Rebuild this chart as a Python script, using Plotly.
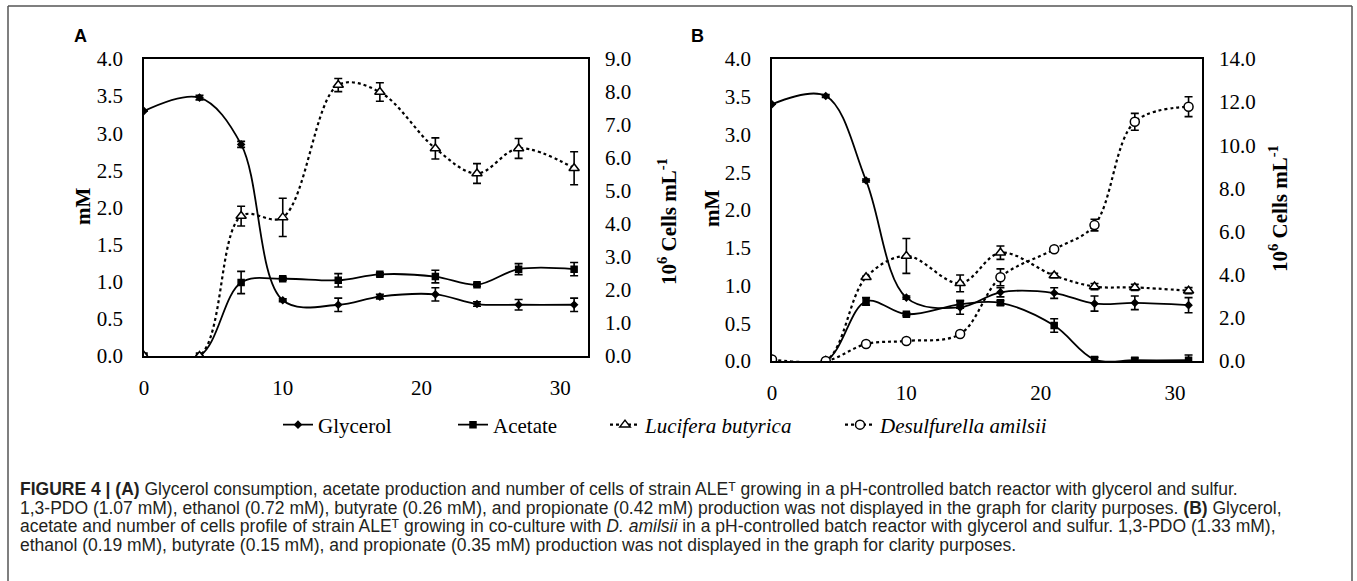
import plotly.graph_objects as go

W, H = 1357, 581

# ---------------- data ----------------
days = [0, 4, 7, 10, 14, 17, 21, 24, 27, 31]

# Panel A (pure culture)
a_glycerol = [3.30, 3.48, 2.85, 0.75, 0.69, 0.80, 0.83, 0.70, 0.69, 0.69]
a_glycerol_err = [0.0, 0.03, 0.04, 0.02, 0.09, 0.03, 0.09, 0.03, 0.07, 0.09]
a_acetate = [0.0, 0.0, 0.99, 1.04, 1.02, 1.10, 1.07, 0.96, 1.17, 1.17]
a_acetate_err = [0.0, 0.0, 0.15, 0.02, 0.09, 0.02, 0.085, 0.02, 0.074, 0.09]
a_lucifera = [0.0, 0.0, 4.24, 4.20, 8.21, 8.00, 6.29, 5.53, 6.29, 5.69]
a_lucifera_err = [0.0, 0.0, 0.30, 0.58, 0.20, 0.28, 0.32, 0.30, 0.30, 0.50]

# Panel B (co-culture)
b_glycerol = [3.40, 3.51, 2.39, 0.84, 0.71, 0.91, 0.90, 0.76, 0.77, 0.74]
b_glycerol_err = [0.0, 0.02, 0.02, 0.02, 0.09, 0.06, 0.07, 0.10, 0.09, 0.10]
b_acetate = [0.0, 0.0, 0.79, 0.62, 0.75, 0.77, 0.47, 0.02, 0.01, 0.01]
b_acetate_err = [0.0, 0.0, 0.05, 0.02, 0.05, 0.03, 0.09, 0.03, 0.03, 0.07]
b_lucifera = [0.05, 0.0, 3.88, 4.87, 3.60, 5.02, 3.96, 3.45, 3.41, 3.26]
b_lucifera_err = [0.0, 0.0, 0.05, 0.81, 0.39, 0.31, 0.10, 0.14, 0.14, 0.14]
b_desulfurella = [0.07, 0.0, 0.79, 0.93, 1.25, 3.88, 5.18, 6.30, 11.09, 11.79]
b_desulfurella_err = [0.0, 0.0, 0.05, 0.05, 0.05, 0.39, 0.05, 0.27, 0.39, 0.46]

left_ticks = [0.0, 0.5, 1.0, 1.5, 2.0, 2.5, 3.0, 3.5, 4.0]
a_right_ticks = [0, 1, 2, 3, 4, 5, 6, 7, 8, 9]
b_right_ticks = [0, 2, 4, 6, 8, 10, 12, 14]
x_ticks = [0, 10, 20, 30]

caption_lines = [
    "<b>FIGURE 4 | (A)</b> Glycerol consumption, acetate production and number of cells of strain ALE\u1d40 growing in a pH-controlled batch reactor with glycerol and sulfur.",
    "1,3-PDO (1.07 mM), ethanol (0.72 mM), butyrate (0.26 mM), and propionate (0.42 mM) production was not displayed in the graph for clarity purposes. <b>(B)</b> Glycerol,",
    "acetate and number of cells profile of strain ALE\u1d40 growing in co-culture with <i>D. amilsii</i> in a pH-controlled batch reactor with glycerol and sulfur. 1,3-PDO (1.33 mM),",
    "ethanol (0.19 mM), butyrate (0.15 mM), and propionate (0.35 mM) production was not displayed in the graph for clarity purposes.",
]

# ---------------- helpers ----------------
def px(x):
    return x / W

def py(y):
    return 1 - y / H

SERIF = "Liberation Serif, Times New Roman, serif"
SANS = "Liberation Sans, Arial, DejaVu Sans, sans-serif"

fig = go.Figure()

def add(x, y, err, name, xa, ya, dash, symbol, size, fill, legend=None):
    fig.add_trace(go.Scatter(
        x=x, y=y, name=name, xaxis=xa, yaxis=ya,
        mode="lines+markers", line=dict(shape="spline", smoothing=1.0, color="black",
                                        width=1.8 if dash == "solid" else 2.2, dash=dash),
        marker=dict(symbol=symbol, size=size, color=fill,
                    line=dict(color="black", width=1.5)),
        error_y=dict(type="data", array=err, visible=True, color="black", thickness=1.6, width=4),
        showlegend=legend is not None, legend=legend if legend else "legend",
    ))

# Panel A
add(days, a_glycerol, a_glycerol_err, "Glycerol", "x", "y", "solid", "diamond", 5, "black", "legend")
add(days, a_acetate, a_acetate_err, "Acetate", "x", "y", "solid", "square", 6, "black", "legend2")
add(days, a_lucifera, a_lucifera_err, "<i>Lucifera butyrica</i>", "x", "y2", "dot", "triangle-up", 9, "white", "legend3")
# Panel B
add(days, b_glycerol, b_glycerol_err, "Glycerol", "x2", "y3", "solid", "diamond", 5, "black")
add(days, b_acetate, b_acetate_err, "Acetate", "x2", "y3", "solid", "square", 6, "black")
add(days, b_lucifera, b_lucifera_err, "<i>Lucifera butyrica</i>", "x2", "y4", "dot", "triangle-up", 9, "white")
add(days, b_desulfurella, b_desulfurella_err, "<i>Desulfurella amilsii</i>", "x2", "y4", "dot", "circle", 9, "white", "legend4")

tickfont = dict(family=SERIF, size=21, color="black")

A_X = [px(144), px(588)]
B_X = [px(772), px(1202)]
A_Y = [py(356), py(59)]
B_Y = [py(361), py(59)]

def xaxis(domain, anchor):
    return dict(domain=domain, anchor=anchor, range=[0, 32], tickvals=x_ticks,
                ticktext=[str(t) for t in x_ticks], showline=True, mirror=True,
                linecolor="black", linewidth=1.5, showgrid=False, zeroline=False,
                ticks="", tickfont=tickfont, ticklabelstandoff=12, automargin=False)

def yleft(domain, anchor):
    return dict(domain=domain, anchor=anchor, range=[0, 4.0], tickvals=left_ticks,
                ticktext=[f"{t:.1f}" for t in left_ticks], showline=True, mirror=True,
                linecolor="black", linewidth=1.5, showgrid=False, zeroline=False,
                ticks="", tickfont=tickfont, ticklabelstandoff=15, automargin=False)

def yright(domain, anchor, overlay, rng, vals):
    return dict(domain=domain, anchor=anchor, overlaying=overlay, side="right",
                range=rng, tickvals=vals, ticktext=[f"{v:.1f}" for v in vals],
                showline=False, showgrid=False, zeroline=False, ticks="",
                tickfont=tickfont, ticklabelstandoff=16, automargin=False)

legend_common = dict(orientation="h", yanchor="middle", y=py(425), xanchor="left",
                     font=dict(family=SERIF, size=21, color="black"),
                     bgcolor="rgba(0,0,0,0)", borderwidth=0, itemwidth=30)

fig.update_layout(
    width=W, height=H, margin=dict(l=0, r=0, t=0, b=0, pad=0, autoexpand=False),
    paper_bgcolor="white", plot_bgcolor="white",
    xaxis=xaxis(A_X, "y"),
    yaxis=yleft(A_Y, "x"),
    yaxis2=yright(A_Y, "x", "y", [0, 9.0], a_right_ticks),
    xaxis2=xaxis(B_X, "y3"),
    yaxis3=yleft(B_Y, "x2"),
    yaxis4=yright(B_Y, "x2", "y3", [0, 14.0], b_right_ticks),
    legend=dict(legend_common, x=px(278)),
    legend2=dict(legend_common, x=px(453)),
    legend3=dict(legend_common, x=px(605)),
    legend4=dict(legend_common, x=px(840)),
)

annos = []
def note(text, x, y, font, angle=0, xanchor="center"):
    annos.append(dict(text=text, x=px(x), y=py(y), xref="paper", yref="paper",
                      xanchor=xanchor, yanchor="middle", textangle=angle,
                      showarrow=False, font=font, align="left"))

# panel letters
note("<b>A</b>", 80, 36, dict(family=SANS, size=18, color="black"))
note("<b>B</b>", 697, 36, dict(family=SANS, size=18, color="black"))
# axis titles
title_font = dict(family=SERIF, size=21, color="black")
note("<b>mM</b>", 83, 207, title_font, -90)
note("<b>mM</b>", 712, 209, title_font, -90)
note("<b>10<sup>6</sup> Cells mL<sup>-1</sup></b>", 668, 222, title_font, -90)
note("<b>10<sup>6</sup> Cells mL<sup>-1</sup></b>", 1279, 209, title_font, -90)
# caption
for i, line in enumerate(caption_lines):
    note(line, 18, 489 + i * 18.5, dict(family=SANS, size=17.5, color="#231f20"), 0, "left")
fig.update_layout(annotations=annos)

# outer frame (top, left, right)
frame = dict(color="#555555", width=1.5)
fig.add_shape(type="line", xref="paper", yref="paper", x0=px(8), x1=px(1352), y0=py(6), y1=py(6), line=frame)
fig.add_shape(type="line", xref="paper", yref="paper", x0=px(8), x1=px(8), y0=py(6), y1=0, line=frame)
fig.add_shape(type="line", xref="paper", yref="paper", x0=px(1352), x1=px(1352), y0=py(6), y1=0, line=frame)

fig.write_html(
    "out.html",
    config={"displayModeBar": False},
    post_script="document.body.style.margin='0';document.body.style.overflow='hidden';",
)
